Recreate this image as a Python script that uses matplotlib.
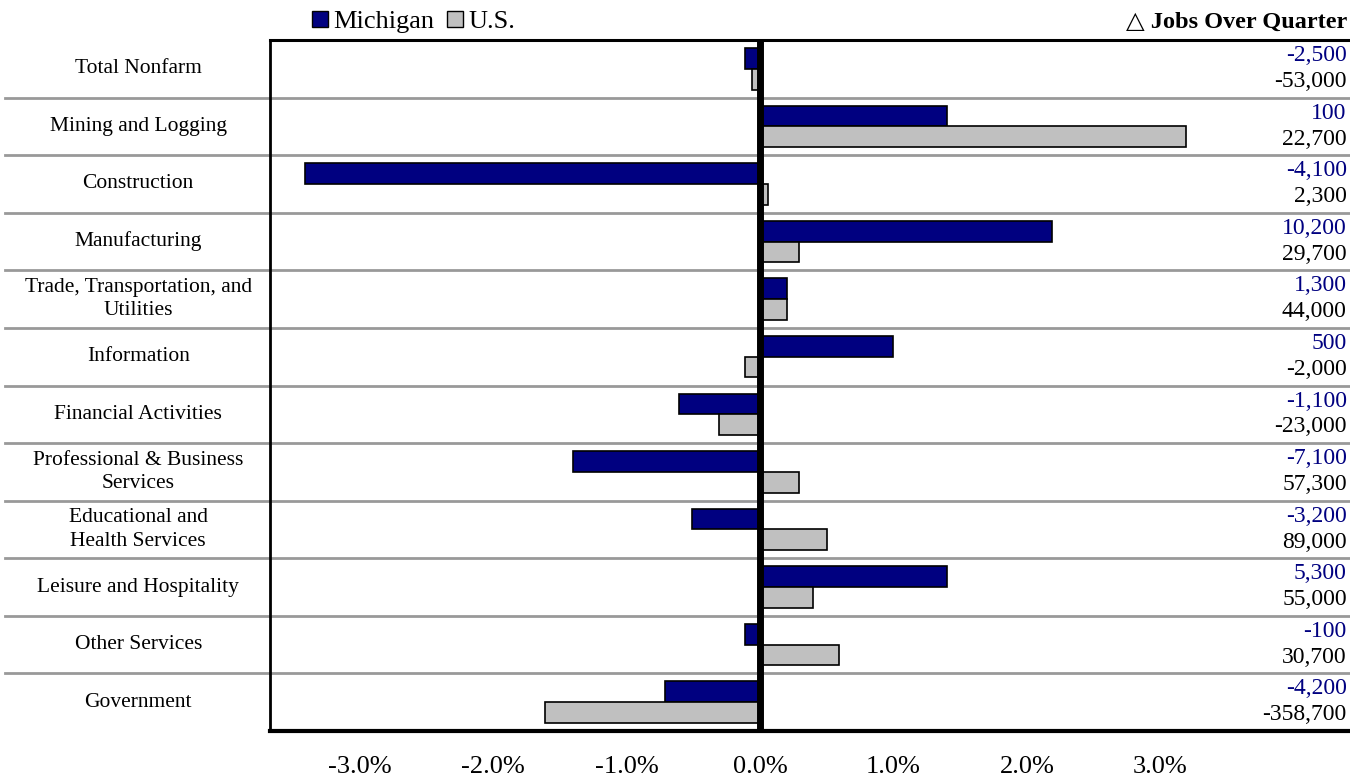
import matplotlib.pyplot as plt
from matplotlib.patches import Patch
import numpy as np

# quarterly change by industry, percent
categories = ['Total Nonfarm', 'Mining and Logging', 'Construction', 'Manufacturing',
              'Trade, Transportation, and\nUtilities', 'Information', 'Financial Activities',
              'Professional & Business\nServices', 'Educational and\nHealth Services',
              'Leisure and Hospitality', 'Other Services', 'Government']
michigan_pct = [-0.11, 1.40, -3.41, 2.19, 0.20, 1.00, -0.61, -1.40, -0.51, 1.40, -0.11, -0.71]
us_pct = [-0.06, 3.19, 0.06, 0.29, 0.20, -0.11, -0.31, 0.29, 0.50, 0.40, 0.59, -1.61]
michigan_jobs = ['-2,500', '100', '-4,100', '10,200', '1,300', '500', '-1,100',
                 '-7,100', '-3,200', '5,300', '-100', '-4,200']
us_jobs = ['-53,000', '22,700', '2,300', '29,700', '44,000', '-2,000', '-23,000',
           '57,300', '89,000', '55,000', '30,700', '-358,700']

navy = '#000080'
silver = '#C0C0C0'
serif = ['Liberation Serif', 'DejaVu Serif']
plt.rcParams['font.family'] = serif

fig = plt.figure(figsize=(13.5, 7.78), dpi=100)
ax = fig.add_axes([270 / 1350, 1 - 731 / 778, 1080 / 1350, 691 / 778])

y = np.arange(len(categories))
h = 0.36
ax.barh(y - h / 2, michigan_pct, height=h, color=navy, edgecolor='black', linewidth=1.2, zorder=2)
ax.barh(y + h / 2, us_pct, height=h, color=silver, edgecolor='black', linewidth=1.2, zorder=2)
ax.axvline(0, color='black', linewidth=5, zorder=4)

ax.set_xlim(-3.67, 4.42)
ax.set_ylim(len(categories) - 0.5, -0.5)

# row separators run out past the axis under the category names
trans = ax.get_yaxis_transform()
for b in np.arange(0.5, len(categories) - 0.5, 1):
    ax.plot([-0.245, 1.0], [b, b], color='#999999', linewidth=2, transform=trans,
            clip_on=False, zorder=1)

for i, cat in enumerate(categories):
    ax.text(-0.122, i, cat, transform=trans, ha='center', va='center', fontsize=15.5,
            linespacing=1.3)
    ax.text(0.997, i - 0.23, michigan_jobs[i], transform=trans, ha='right', va='center',
            fontsize=17, color=navy)
    ax.text(0.997, i + 0.22, us_jobs[i], transform=trans, ha='right', va='center',
            fontsize=17, color='black')

ax.set_xticks(np.arange(-3, 4, 1))
ax.set_xticklabels([f'{t:.1f}%' for t in np.arange(-3, 4, 1)], fontsize=19)
ax.set_yticks([])
ax.tick_params(axis='x', length=0, pad=18)

ax.spines['right'].set_visible(False)
ax.spines['left'].set_linewidth(2)
ax.spines['top'].set_linewidth(2.2)
ax.spines['bottom'].set_linewidth(3)

handles = [Patch(facecolor=navy, edgecolor='black', label='Michigan'),
           Patch(facecolor=silver, edgecolor='black', label='U.S.')]
fig.legend(handles=handles, loc='center left', bbox_to_anchor=(312 / 1350, 1 - 22 / 778),
           ncol=2, frameon=False, fontsize=19, handlelength=0.6, handleheight=0.6,
           handletextpad=0.2, columnspacing=0.5, borderpad=0, borderaxespad=0)

fig.text(1347 / 1350, 1 - 22 / 778, '△ Jobs Over Quarter', ha='right', va='center',
         fontsize=17.5, fontweight='bold', family=['Liberation Serif', 'DejaVu Sans'])

fig.savefig('out.png', dpi=100)
